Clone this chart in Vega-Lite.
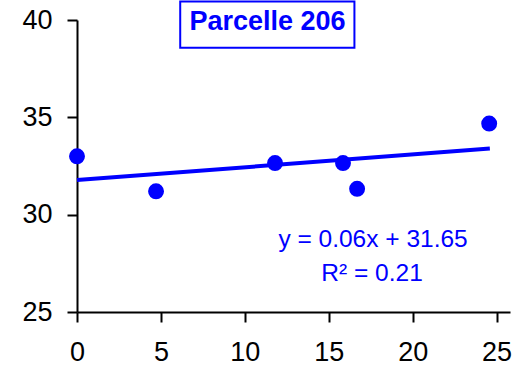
{
  "$schema": "https://vega.github.io/schema/vega-lite/v6.json",
  "width": 433,
  "height": 292,
  "autosize": {"type": "none"},
  "padding": {"left": 77, "top": 20, "right": 12, "bottom": 55},
  "config": {
    "view": {"stroke": null},
    "font": "Liberation Sans",
    "axis": {
      "grid": false,
      "domainColor": "#000000",
      "domainWidth": 2,
      "tickColor": "#000000",
      "tickWidth": 2,
      "tickSize": 10,
      "labelColor": "#000000",
      "labelFont": "Liberation Sans",
      "labelFlush": false,
      "title": null
    }
  },
  "data": {
    "values": [
      {"x": 0, "y": 33.0},
      {"x": 4.71, "y": 31.2},
      {"x": 11.8, "y": 32.65},
      {"x": 15.85, "y": 32.65},
      {"x": 16.69, "y": 31.33},
      {"x": 24.56, "y": 34.68}
    ]
  },
  "layer": [
    {
      "transform": [{"regression": "y", "on": "x", "extent": [0, 24.6]}],
      "mark": {"type": "line", "color": "#0000FF", "strokeWidth": 4, "clip": false},
      "encoding": {
        "x": {"field": "x", "type": "quantitative", "scale": {"domain": [0, 25.8], "nice": false, "zero": false},
          "axis": {"values": [0, 5, 10, 15, 20, 25], "labelPadding": 17, "labelFontSize": 27, "title": null}},
        "y": {"field": "y", "type": "quantitative", "scale": {"domain": [25, 40], "nice": false, "zero": false},
          "axis": {"values": [25, 30, 35, 40], "labelPadding": 15, "labelFontSize": 27, "title": null}}
      }
    },
    {
      "mark": {"type": "circle", "color": "#0000FF", "opacity": 1, "size": 254},
      "encoding": {
        "x": {"field": "x", "type": "quantitative"},
        "y": {"field": "y", "type": "quantitative"}
      }
    },
    {
      "data": {"values": [{"label": "Parcelle 206"}]},
      "mark": {"type": "rect", "fill": "#FFFFFF", "stroke": "#0000FF", "strokeWidth": 2},
      "encoding": {
        "x": {"datum": 6.15, "type": "quantitative"},
        "x2": {"datum": 16.53},
        "y": {"datum": 40.95, "type": "quantitative"},
        "y2": {"datum": 38.57}
      }
    },
    {
      "data": {"values": [{"label": "Parcelle 206"}]},
      "mark": {"type": "text", "color": "#0000FF", "fontSize": 27, "fontWeight": "bold", "align": "center", "baseline": "alphabetic"},
      "encoding": {
        "x": {"datum": 11.35, "type": "quantitative"},
        "y": {"datum": 39.5, "type": "quantitative"},
        "text": {"field": "label"}
      }
    },
    {
      "data": {"values": [{"label": "y = 0.06x + 31.65"}]},
      "mark": {"type": "text", "color": "#0000FF", "fontSize": 24.5, "align": "center", "baseline": "alphabetic"},
      "encoding": {
        "x": {"datum": 17.64, "type": "quantitative"},
        "y": {"datum": 28.32, "type": "quantitative"},
        "text": {"field": "label"}
      }
    },
    {
      "data": {"values": [{"label": "R² = 0.21"}]},
      "mark": {"type": "text", "color": "#0000FF", "fontSize": 24.5, "align": "center", "baseline": "alphabetic"},
      "encoding": {
        "x": {"datum": 17.58, "type": "quantitative"},
        "y": {"datum": 26.6, "type": "quantitative"},
        "text": {"field": "label"}
      }
    }
  ]
}
